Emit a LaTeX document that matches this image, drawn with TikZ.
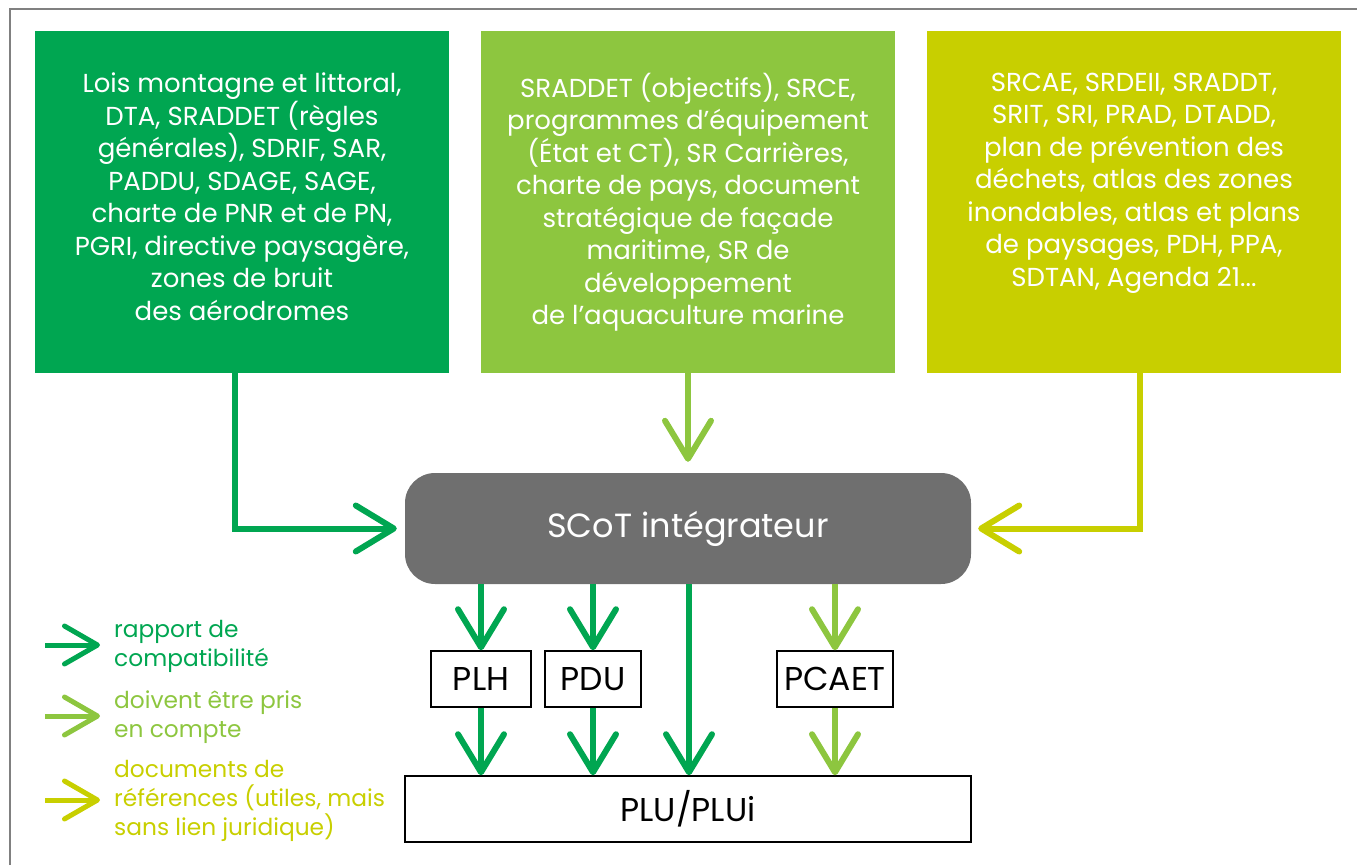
\documentclass[tikz,border=0pt]{standalone}
\usepackage{fontspec}
\setmainfont{Poppins}
\usetikzlibrary{arrows.meta}
\definecolor{gA}{HTML}{00A651}
\definecolor{gB}{HTML}{8DC63F}
\definecolor{gC}{HTML}{C8CF00}
\definecolor{scotgray}{HTML}{6F6F6F}
\definecolor{framegray}{HTML}{808080}
\tikzset{
  topbox/.style={inner sep=0pt, minimum width=414pt, minimum height=342pt},
  boxtext/.style={anchor=north, text=white, align=center, inner sep=0pt, font=\fontsize{26}{32.5}\selectfont},
  arr/.style={line width=6pt, -{Straight Barb[length=38pt,width=46pt,round]}},
  legarr/.style={line width=5pt, -{Straight Barb[length=33pt,width=38pt,round]}},
  smallbox/.style={draw=black, line width=1.5pt, fill=white, minimum height=56pt, inner sep=0pt, font=\fontsize{33}{36}\selectfont},
  legtext/.style={anchor=west, align=left, inner sep=0pt, font=\fontsize{23.3}{29}\selectfont},
}
\begin{document}
\begin{tikzpicture}[x=1pt,y=-1pt]
\useasboundingbox (0,0) rectangle (1357,865);
\draw[framegray, line width=2pt] (10,865) -- (10,9) -- (1357,9);
% top boxes
\node[topbox, fill=gA] (b1) at (242,202) {};
\node[topbox, fill=gB] (b2) at (688,202) {};
\node[topbox, fill=gC] (b3) at (1134,202) {};
\node[boxtext] (t1) at ([yshift=-42pt]b1.north) {Lois montagne et littoral,\\DTA, SRADDET (règles\\générales), SDRIF, SAR,\\PADDU, SDAGE, SAGE,\\charte de PNR et de PN,\\PGRI, directive paysagère,\\zones de bruit\\des aérodromes};
\node[boxtext] (t2) at ([yshift=-42pt]b2.north) {SRADDET (objectifs), SRCE,\\programmes d’équipement\\(État et CT), SR Carrières,\\charte de pays, document\\stratégique de façade\\maritime, SR de\\développement\\de l’aquaculture marine};
\node[boxtext] (t3) at ([yshift=-42pt]b3.north) {SRCAE, SRDEII, SRADDT,\\SRIT, SRI, PRAD, DTADD,\\plan de prévention des\\déchets, atlas des zones\\inondables, atlas et plans\\de paysages, PDH, PPA,\\SDTAN, Agenda 21...};
% SCoT
\node[fill=scotgray, rounded corners=30pt, minimum width=566pt, minimum height=111pt, inner sep=0pt, text=white, font=\fontsize{33.5}{36}\selectfont] (scot) at (688,528.5) {SCoT intégrateur};
% small boxes
\node[smallbox, minimum width=100pt] (plh) at (481,679) {PLH};
\node[smallbox, minimum width=96pt] (pdu) at (593,679) {PDU};
\node[smallbox, minimum width=116pt] (pcaet) at (835,679) {PCAET};
\node[smallbox, minimum width=566pt, minimum height=66pt] (plu) at (688,809) {PLU/PLUi};
% arrows into SCoT
\draw[arr, gA, shorten >=8pt] ([xshift=-7pt]b1.south) |- (scot.west);
\draw[arr, gB, shorten >=11pt] (b2.south) -- (scot.north);
\draw[arr, gC, shorten >=7pt] ([xshift=6pt]b3.south) |- (scot.east);
% arrows out of SCoT
\draw[arr, gA] (plh.north |- scot.south) -- (plh.north);
\draw[arr, gA] (pdu.north |- scot.south) -- (pdu.north);
\draw[arr, gB] (pcaet.north |- scot.south) -- (pcaet.north);
\draw[arr, gA] ([xshift=1pt]scot.south) -- ([xshift=1pt]plu.north);
\draw[arr, gA] (plh.south) -- (plh.south |- plu.north);
\draw[arr, gA] (pdu.south) -- (pdu.south |- plu.north);
\draw[arr, gB] (pcaet.south) -- (pcaet.south |- plu.north);
% legend
\coordinate (l1s) at (45,645); \coordinate (l1e) at (100,645);
\coordinate (l2s) at (45,716); \coordinate (l2e) at (100,716);
\coordinate (l3s) at (45,800); \coordinate (l3e) at (100,800);
\draw[legarr, gA] (l1s) -- (l1e);
\draw[legarr, gB] (l2s) -- (l2e);
\draw[legarr, gC] (l3s) -- (l3e);
\node[legtext, text=gA] (lt1) at (114,646) {rapport de\\compatibilité};
\node[legtext, text=gB] (lt2) at (114,717) {doivent être pris\\en compte};
\node[legtext, text=gC] (lt3) at (114,801) {documents de\\références (utiles, mais\\sans lien juridique)};
\end{tikzpicture}
\end{document}
